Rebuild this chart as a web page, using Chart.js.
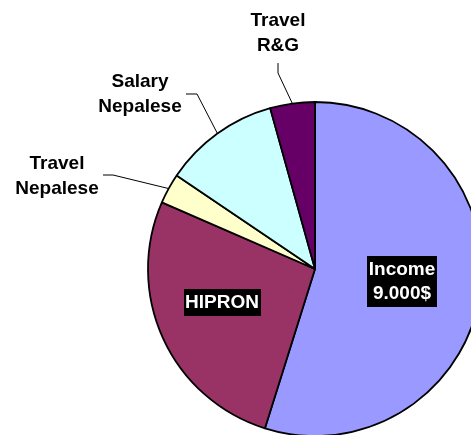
<!DOCTYPE html>
<html>
<head>
<meta charset="utf-8">
<script src="https://cdn.jsdelivr.net/npm/chart.js@4"></script>
<style>
  html, body { margin: 0; padding: 0; background: #fff; overflow: hidden; }
  #wrap { width: 471px; height: 435px; position: relative; }
</style>
</head>
<body>
<div id="wrap"><canvas id="chart" width="471" height="435"></canvas></div>
<script>
const labels = ['Income', 'HIPRON', 'Travel Nepalese', 'Salary Nepalese', 'Travel R&G'];
const amounts = [9000, 4380, 480, 1840, 710];
const colors = ['#9999FF', '#993366', '#FFFFCC', '#CCFFFF', '#660066'];
const incomeText = '9.000$';

const FONT = 'bold 19px "Liberation Sans", Arial, sans-serif';

// outside labels: text lines, text centre, elbow points of the leader line
const outside = {
  2: { lines: ['Travel', 'Nepalese'], x: 57, y: 164, leader: [[103, 175], [113, 175]] },
  3: { lines: ['Salary', 'Nepalese'], x: 140, y: 82, leader: [[186, 94], [197, 94]] },
  4: { lines: ['Travel', 'R&G'], x: 278, y: 21, leader: [[278, 63], [278, 73]] }
};
// inside labels (white on black)
const inside = {
  0: { lines: ['Income', incomeText], dx: 87, dy: 12 },
  1: { lines: ['HIPRON'], dx: -93, dy: 33 }
};

const labelPlugin = {
  id: 'pieLabels',
  afterDatasetsDraw(chart) {
    const ctx = chart.ctx;
    const arcs = chart.getDatasetMeta(0).data;
    ctx.save();
    ctx.font = FONT;
    ctx.textAlign = 'center';
    ctx.textBaseline = 'middle';
    arcs.forEach((arc, i) => {
      const p = arc.getProps(['x', 'y', 'startAngle', 'endAngle', 'outerRadius'], true);
      const mid = (p.startAngle + p.endAngle) / 2;
      if (outside[i]) {
        const o = outside[i];
        const ex = p.x + Math.cos(mid) * p.outerRadius;
        const ey = p.y + Math.sin(mid) * p.outerRadius;
        ctx.strokeStyle = '#000';
        ctx.lineWidth = 1;
        ctx.beginPath();
        ctx.moveTo(o.leader[0][0], o.leader[0][1]);
        ctx.lineTo(o.leader[1][0], o.leader[1][1]);
        ctx.lineTo(ex, ey);
        ctx.stroke();
        ctx.fillStyle = '#000';
        o.lines.forEach((t, k) => ctx.fillText(t, o.x, o.y + k * 25));
      }
      if (inside[i]) {
        const o = inside[i];
        const cx = p.x + o.dx, cy = p.y + o.dy;
        const lh = 24;
        const w = Math.max(...o.lines.map(t => ctx.measureText(t).width)) + 3;
        const h = o.lines.length * lh + 3;
        ctx.fillStyle = '#000';
        ctx.fillRect(Math.round(cx - w / 2), Math.round(cy - h / 2), Math.round(w), Math.round(h));
        ctx.fillStyle = '#fff';
        o.lines.forEach((t, k) => ctx.fillText(t, cx, cy - (o.lines.length - 1) * lh / 2 + k * lh + 1));
      }
    });
    ctx.restore();
  }
};

new Chart(document.getElementById('chart'), {
  type: 'pie',
  data: {
    labels: labels,
    datasets: [{
      data: amounts,
      backgroundColor: colors,
      borderColor: '#000',
      borderWidth: 1.8,
      radius: 167,
      clip: false
    }]
  },
  options: {
    responsive: false,
    animation: false,
    layout: { padding: { left: 159, right: 0, top: 103, bottom: 0 } },
    plugins: {
      legend: { display: false },
      tooltip: { enabled: false }
    }
  },
  plugins: [labelPlugin]
});
</script>
</body>
</html>
